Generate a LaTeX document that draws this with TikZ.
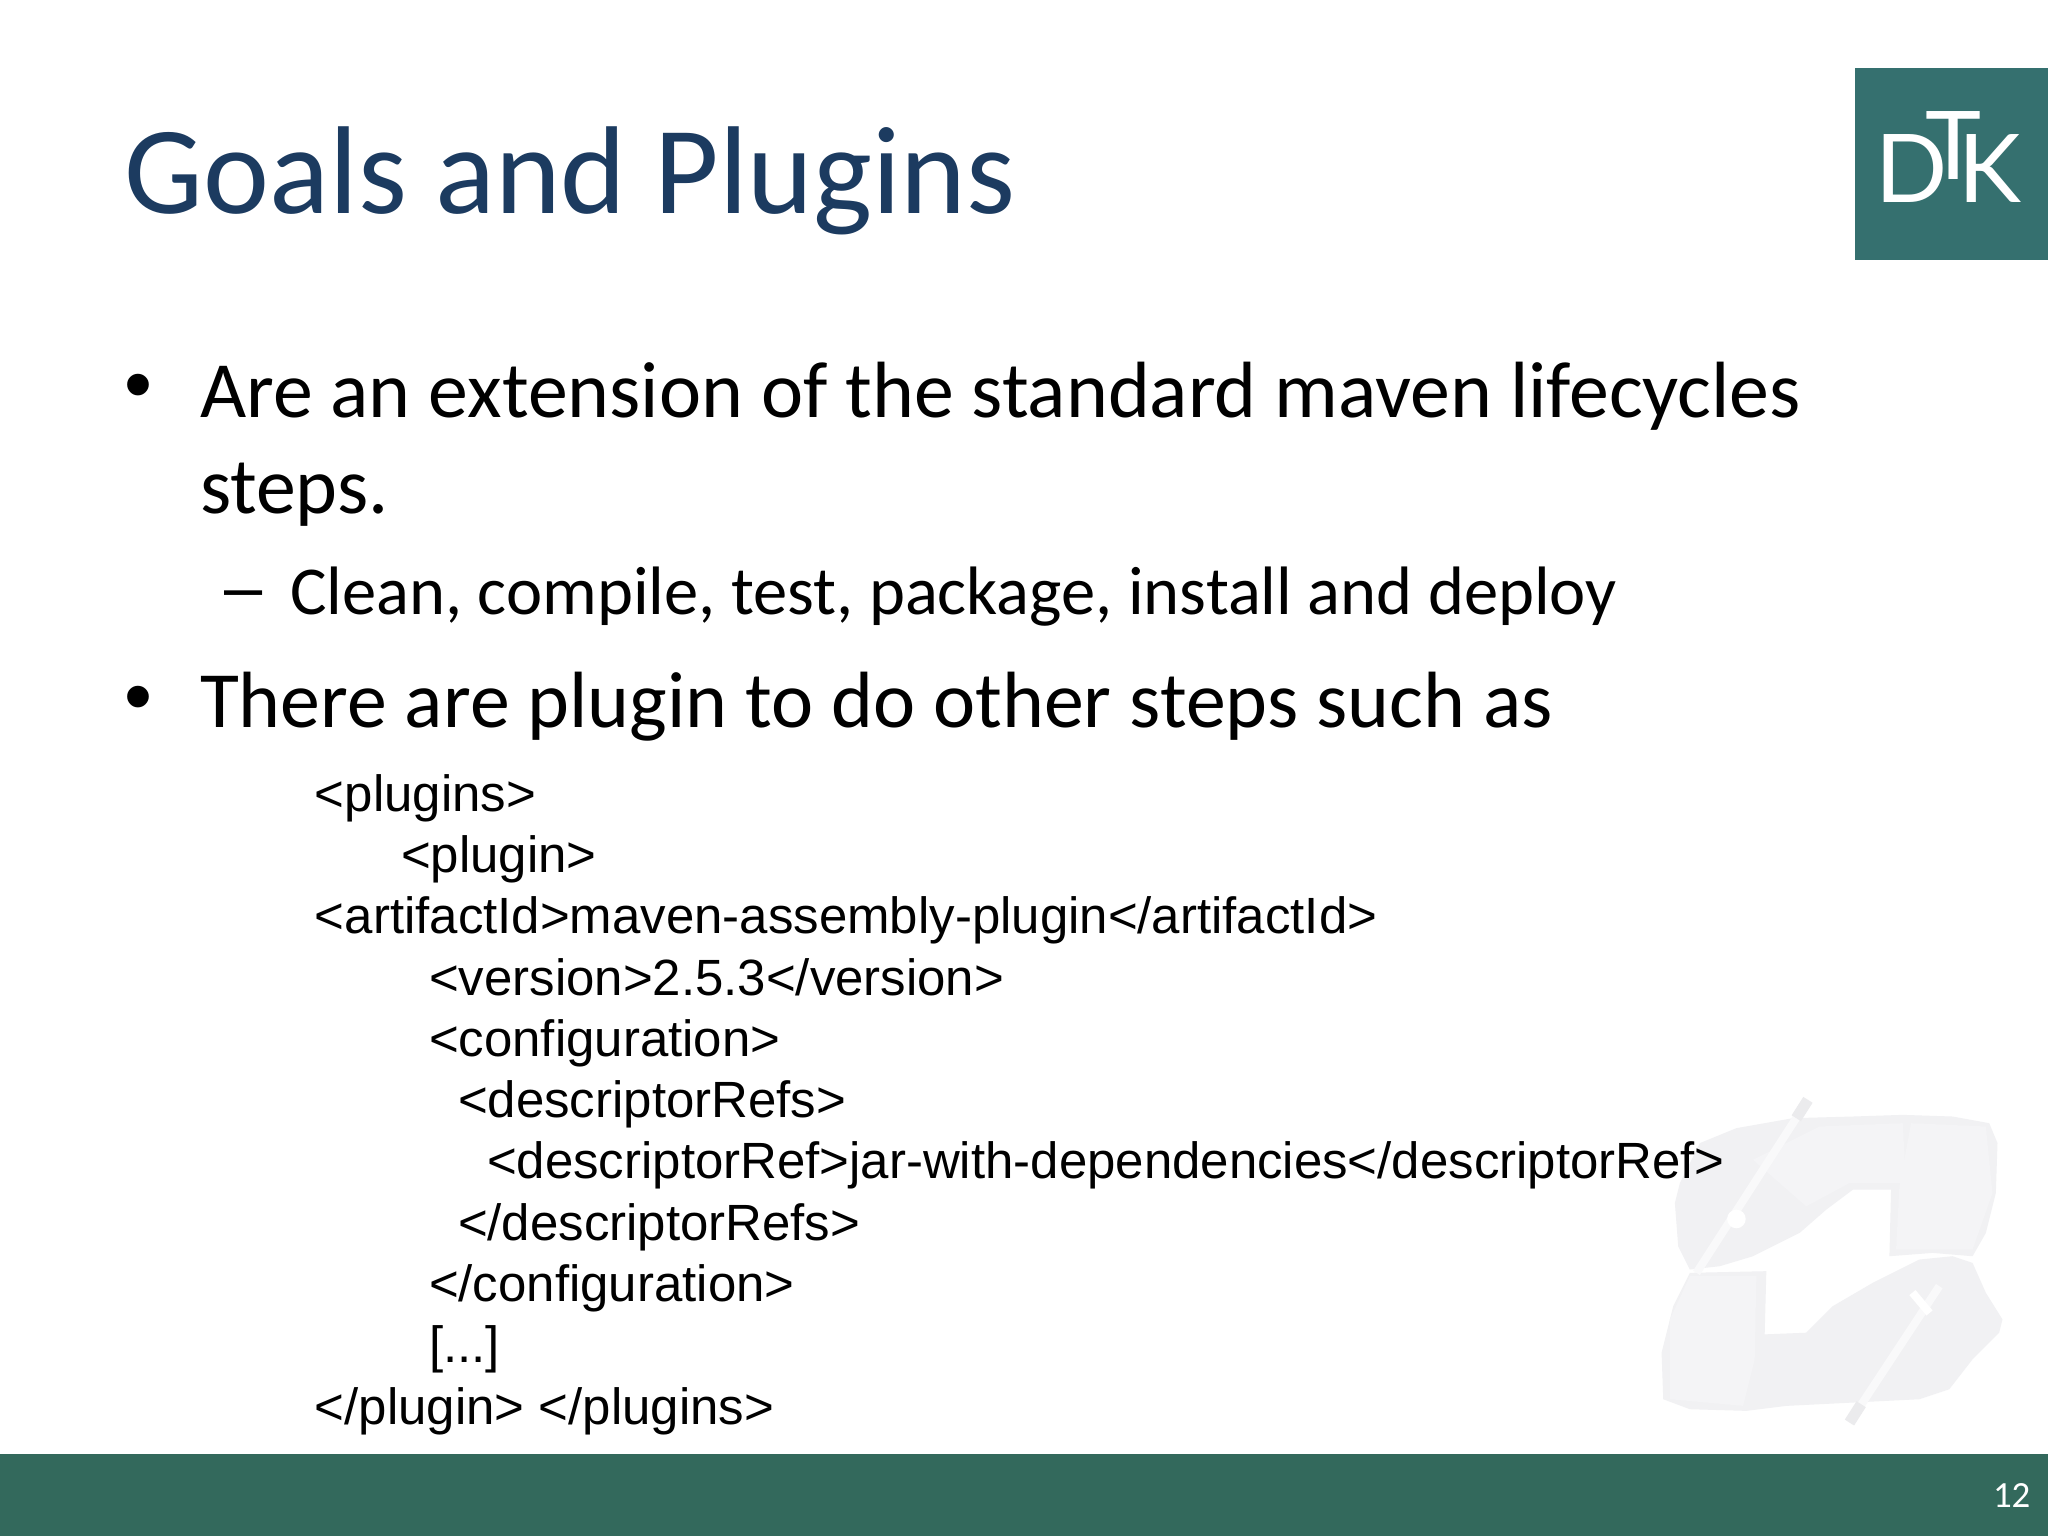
\documentclass[tikz,border=0pt]{standalone}
\usepackage{fontspec}
\setmainfont{Carlito}
\newfontfamily\codefont{Liberation Sans}
\newfontfamily\logofont{Lato}
\definecolor{titleblue}{HTML}{1C3B60}
\definecolor{footgreen}{HTML}{33695C}
\definecolor{logoteal}{HTML}{35706F}
\definecolor{handgray}{HTML}{F1F1F3}
\definecolor{handlight}{HTML}{F4F4F6}
\definecolor{penlight}{HTML}{F9F9FA}
\definecolor{pengray}{HTML}{EBEBED}
\tikzset{
    slidetext/.style={anchor=base west,inner sep=0pt,outer sep=0pt},
    titletext/.style={slidetext,text=titleblue,font=\fontsize{35.56}{40}\selectfont},
    bodytext/.style={slidetext,font=\fontsize{22.7}{26}\selectfont},
    subtext/.style={slidetext,font=\fontsize{19.5}{22}\selectfont},
    bullettext/.style={slidetext,font=\codefont\fontsize{22.7}{26}\selectfont},
    dashtext/.style={slidetext,font=\codefont\fontsize{19.5}{22}\selectfont},
    codetext/.style={slidetext,font=\codefont\fontsize{14.5}{18}\selectfont},
    logotext/.style={slidetext,text=white,font=\logofont\fontsize{27}{30}\selectfont}
}
\begin{document}
\begin{tikzpicture}
    \useasboundingbox (0,0) rectangle (20.48,15.36);
    \fill[white] (0,0) rectangle (20.48,15.36);
    % watermark
    \begin{scope}[shift={(16.2,4.76)},x=0.003333cm,y=-0.003333cm]
        \fill[handgray] (165,430) -- (180,370) -- (240,250) -- (350,205) -- (520,175) -- (700,170) -- (850,165) -- (1000,170) -- (1110,190) -- (1135,250) -- (1130,400) -- (1100,520) -- (1060,590) -- (940,580) -- (810,590) -- (815,390) -- (700,390) -- (620,450) -- (540,520) -- (400,590) -- (300,620) -- (210,630) -- (175,560) -- cycle;
        \fill[handgray] (210,640) -- (440,635) -- (435,825) -- (560,820) -- (640,740) -- (760,670) -- (900,600) -- (1000,590) -- (1060,610) -- (1100,700) -- (1150,780) -- (1140,820) -- (1060,900) -- (990,990) -- (900,1020) -- (700,1030) -- (500,1040) -- (380,1055) -- (210,1050) -- (130,1020) -- (125,880) -- (160,740) -- cycle;
        \fill[handlight] (875,190) -- (1100,200) -- (1120,400) -- (1060,570) -- (830,570) -- (840,380) -- cycle;
        \fill[handlight] (150,780) -- (210,650) -- (410,650) -- (405,900) -- (370,1040) -- (150,1020) -- cycle;
        \fill[handlight] (400,300) -- (600,200) -- (850,190) -- (860,370) -- (690,370) -- (560,440) -- cycle;
        \draw[penlight,line width=0.8mm] (565,120) -- (230,640);
        \draw[penlight,line width=0.8mm] (960,680) -- (690,1090);
        \draw[pengray,line width=1.1mm] (565,120) -- (530,175);
        \draw[pengray,line width=1.1mm] (725,1035) -- (690,1090);
        \fill[white] (350,478) circle (28);
        \fill[white,rotate around={-50:(905,730)}] (865,718) rectangle (945,742);
    \end{scope}
    % logo and footer
    \fill[logoteal] (18.55,12.76) rectangle (20.48,14.68);
    \fill[footgreen] (0,0) rectangle (20.48,0.82);
    \node[logotext] (logoD) at (18.75,13.33) {D};
    \node[logotext] (logoT) at (19.25,13.56) {T};
    \node[logotext] (logoK) at (19.58,13.33) {K};
    \node[slidetext,text=white,font=\fontsize{10.5}{12}\selectfont] (pagenum) at (19.93,0.28) {12};
    % title and bullets
    \node[titletext] (title)   at (1.25,13.22) {Goals and Plugins};
    \node[bullettext] (dotA)   at (1.25,11.24) {•};
    \node[bodytext]  (lineA)   at (2.00,11.18) {Are an extension of the standard maven lifecycles};
    \node[bodytext]  (lineB)   at (2.00,10.22) {steps.};
    \node[dashtext]  (dashA)   at (2.24,9.25)  {–};
    \node[subtext]   (lineC)   at (2.90,9.21)  {Clean, compile, test, package, install and deploy};
    \node[bullettext] (dotB)   at (1.25,8.12)  {•};
    \node[bodytext]  (lineD)   at (2.00,8.08)  {There are plugin to do other steps such as};
    % code
    \node[codetext] (codeA) at (3.15,7.24) {<plugins>};
    \node[codetext] (codeB) at (4.01,6.63) {<plugin>};
    \node[codetext] (codeC) at (3.15,6.02) {<artifactId>maven-assembly-plugin</artifactId>};
    \node[codetext] (codeD) at (4.29,5.40) {<version>2.5.3</version>};
    \node[codetext] (codeE) at (4.29,4.79) {<configuration>};
    \node[codetext] (codeF) at (4.58,4.18) {<descriptorRefs>};
    \node[codetext] (codeG) at (4.87,3.57) {<descriptorRef>jar-with-dependencies</descriptorRef>};
    \node[codetext] (codeH) at (4.58,2.95) {</descriptorRefs>};
    \node[codetext] (codeI) at (4.29,2.34) {</configuration>};
    \node[codetext] (codeJ) at (4.29,1.73) {[...]};
    \node[codetext] (codeK) at (3.15,1.11) {</plugin> </plugins>};
\end{tikzpicture}
\end{document}
